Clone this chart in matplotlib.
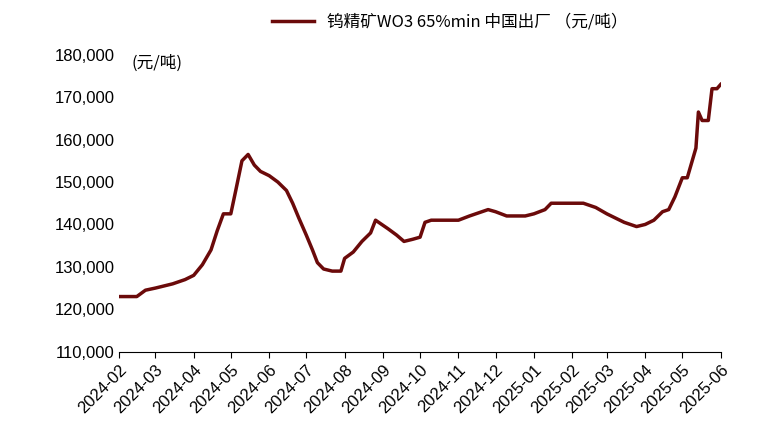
import matplotlib.pyplot as plt
import matplotlib.dates as mdates
from matplotlib import font_manager
from matplotlib.font_manager import FontProperties
import pandas as pd

plt.rcParams['font.family'] = 'Liberation Sans'
# 找一个中文字体文件
cjk_files = [f for f in font_manager.findSystemFonts() if 'CJK' in f or 'cjk' in f.lower()]
cjk_prop = FontProperties(fname=cjk_files[0], size=12) if cjk_files else FontProperties(family='Noto Sans CJK SC', size=12)

# 数据
dates = ['2024-02-01', '2024-02-15', '2024-02-22', '2024-03-01', '2024-03-08', '2024-03-15',
         '2024-03-25', '2024-04-01', '2024-04-08', '2024-04-15', '2024-04-20', '2024-04-25',
         '2024-05-01', '2024-05-05', '2024-05-10', '2024-05-15', '2024-05-20', '2024-05-25',
         '2024-06-01', '2024-06-08', '2024-06-15', '2024-06-20', '2024-06-25', '2024-07-01',
         '2024-07-06', '2024-07-10', '2024-07-15', '2024-07-22', '2024-07-29', '2024-08-01',
         '2024-08-08', '2024-08-15', '2024-08-22', '2024-08-26', '2024-09-05', '2024-09-12',
         '2024-09-18', '2024-09-25', '2024-10-01', '2024-10-05', '2024-10-10', '2024-11-01',
         '2024-11-10', '2024-11-25', '2024-12-01', '2024-12-10', '2024-12-25', '2025-01-01',
         '2025-01-10', '2025-01-15', '2025-01-25', '2025-02-10', '2025-02-20', '2025-03-01',
         '2025-03-08', '2025-03-15', '2025-03-25', '2025-04-01', '2025-04-08', '2025-04-15',
         '2025-04-20', '2025-04-25', '2025-05-01', '2025-05-05', '2025-05-10', '2025-05-12',
         '2025-05-14', '2025-05-17', '2025-05-22', '2025-05-25', '2025-05-29', '2025-06-01']
prices = [123000, 123000, 124500, 125000, 125500, 126000, 127000, 128000, 130500, 134000,
          138500, 142500, 142500, 148000, 155000, 156500, 154000, 152500, 151500, 150000,
          148000, 145000, 141500, 137500, 134000, 131000, 129500, 129000, 129000, 132000,
          133500, 136000, 138000, 141000, 139000, 137500, 136000, 136500, 137000, 140500,
          141000, 141000, 142000, 143500, 143000, 142000, 142000, 142500, 143500, 145000,
          145000, 145000, 144000, 142500, 141500, 140500, 139500, 140000, 141000, 143000,
          143500, 146500, 151000, 151000, 156000, 158000, 166500, 164500, 164500, 172000,
          172000, 173000]

x = pd.to_datetime(dates)
fig = plt.figure(figsize=(7.61, 4.38), dpi=100)
ax = fig.add_axes([0.157, 0.197, 0.79, 0.678])
ax.plot(x, prices, color='#6b0a0a', lw=2.5,
        label='钨精矿WO3 65%min 中国出厂 （元/吨）')

ax.set_ylim(110000, 180000)
ax.set_xlim(pd.Timestamp('2024-02-01'), pd.Timestamp('2025-06-01'))
ax.yaxis.set_major_formatter(plt.FuncFormatter(lambda v, p: f'{v:,.0f}'))
ax.xaxis.set_major_locator(mdates.MonthLocator())
ax.xaxis.set_major_formatter(mdates.DateFormatter('%Y-%m'))
plt.setp(ax.get_xticklabels(), rotation=45, ha='right', rotation_mode='anchor')
ax.tick_params(labelsize=12, length=4)
ax.tick_params(axis='y', length=0)
for s in ['top', 'right', 'left']:
    ax.spines[s].set_visible(False)
ax.text(0.02, 1.0, '(元/吨)', transform=ax.transAxes, va='top', fontproperties=cjk_prop)
ax.legend(loc='lower center', bbox_to_anchor=(0.55, 1.03), frameon=False,
          prop=cjk_prop, handlelength=2.5)
plt.savefig('out.png')
